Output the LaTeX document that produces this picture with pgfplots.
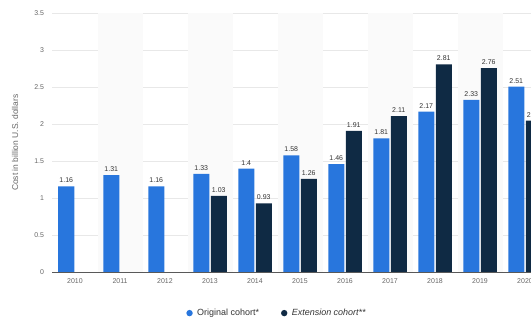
\documentclass[border=0pt]{standalone}
\usepackage{pgfplots}
\pgfplotsset{compat=1.18}
\usepackage{fontspec}
\setmainfont{Liberation Sans}
\definecolor{stblue}{HTML}{2876DD}
\definecolor{stdark}{HTML}{0F2A44}
\definecolor{txtgray}{HTML}{666666}
\definecolor{lblgray}{HTML}{333333}
\begin{document}
\begin{tikzpicture}
\useasboundingbox (0bp,0bp) rectangle (531bp,322bp);
\clip (0bp,0bp) rectangle (531bp,322bp);
\begin{axis}[
  at={(52.5bp,50bp)}, anchor=south west,
  scale only axis, width=495bp, height=258.5bp,
  ybar=1.5bp, bar width=16bp,
  xmin=-0.5, xmax=10.5, ymin=0, ymax=3.5,
  xtick={0,...,10},
  xticklabels={2010,2011,2012,2013,2014,2015,2016,2017,2018,2019,2020},
  ytick={0,0.5,1,1.5,2,2.5,3,3.5},
  /pgf/number format/assume math mode=true,
  tick label style={font=\fontsize{7}{8}\selectfont, text=txtgray},
  xticklabel style={yshift=-3bp},
  yticklabel style={xshift=-5bp},
  major tick length=0pt,
  tick style={draw=none},
  axis x line*=bottom, axis y line*=left,
  x axis line style={draw=gray!70!black, -},
  y axis line style={draw=none},
  ymajorgrids, grid style={draw=gray!18, line width=0.5bp},
  ylabel={Cost in billion U.S. dollars},
  ylabel style={at={(axis description cs:-0.0758,0.5)}, anchor=center, font=\fontsize{8.5}{10}\selectfont, text=txtgray},
  nodes near coords,
  every node near coord/.append style={font=\fontsize{7}{8}\selectfont, text=lblgray},
  legend columns=2,
  legend style={at={(axis description cs:0.4535,-0.159)}, anchor=center, draw=none, fill=none,
    font=\fontsize{9}{10}\selectfont, text=lblgray,
    /tikz/every even column/.append style={column sep=20bp}},
  legend cell align=left,
]
\fill[gray!4] (axis cs:0.5,0) rectangle (axis cs:1.5,3.5);
\fill[gray!4] (axis cs:2.5,0) rectangle (axis cs:3.5,3.5);
\fill[gray!4] (axis cs:4.5,0) rectangle (axis cs:5.5,3.5);
\fill[gray!4] (axis cs:6.5,0) rectangle (axis cs:7.5,3.5);
\fill[gray!4] (axis cs:8.5,0) rectangle (axis cs:9.5,3.5);
\addplot[fill=stblue, draw=none,
  legend image code/.code={\fill[stblue] (0cm,0cm) circle (3.2bp); \path (0.2cm,0cm);}]
  coordinates {(0,1.16) (1,1.31) (2,1.16) (3,1.33) (4,1.4) (5,1.58) (6,1.46) (7,1.81) (8,2.17) (9,2.33) (10,2.51)};
\addlegendentry{Original cohort*}
\addplot[fill=stdark, draw=none,
  legend image code/.code={\fill[stdark] (0cm,0cm) circle (3.2bp); \path (0.2cm,0cm);}]
  coordinates {(3,1.03) (4,0.93) (5,1.26) (6,1.91) (7,2.11) (8,2.81) (9,2.76) (10,2.05)};
\addlegendentry{\itshape Extension cohort**}
\end{axis}
\end{tikzpicture}
\end{document}
